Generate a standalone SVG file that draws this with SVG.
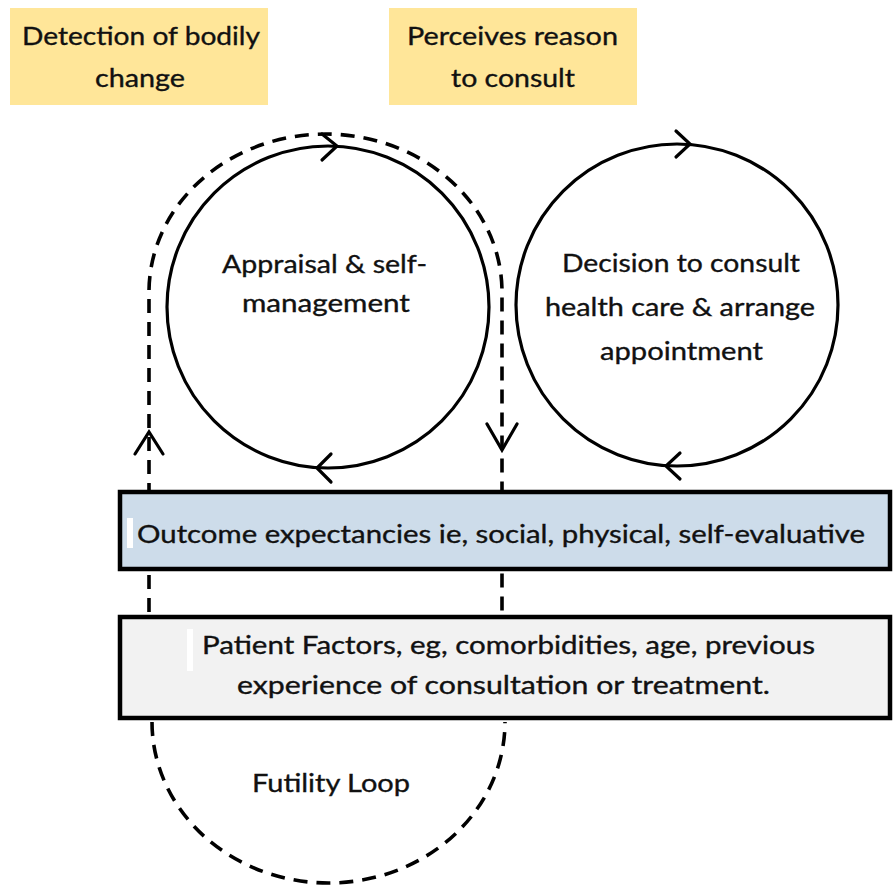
<svg xmlns="http://www.w3.org/2000/svg" width="896" height="886" viewBox="0 0 896 886">
<style>
text { font-family: "Lato", "Liberation Sans", sans-serif; font-size: 25px; fill: #111; stroke: #111; stroke-width: 0.35; }
.note { fill: #ffe699; }
.ring { fill: #fff; stroke: #000; stroke-width: 3.2; }
.head { fill: none; stroke: #000; stroke-width: 3.2; stroke-linecap: round; stroke-linejoin: miter; }
.dash { fill: none; stroke: #000; stroke-width: 3.6; stroke-dasharray: 14 9; }
.band { stroke: #000; stroke-width: 4.5; }
.cursor { fill: #fff; stroke: none; }
</style>
<rect width="896" height="886" fill="#fff"/>

<g id="connectors">
  <path class="dash" d="M149,612 L149,292 A176.5,158 0 0 1 502,292 L502,612"/>
  <path class="dash" d="M152,722 A176.5,161 0 0 0 505,722"/>
  <polyline class="head" points="135,454 149,432 163,454"/>
  <polyline class="head" points="487,424 502,450 517,424"/>
</g>

<g id="detection">
  <rect class="note" x="10" y="8" width="258" height="97"/>
  <text x="22" y="45" textLength="238" lengthAdjust="spacingAndGlyphs">Detection of bodily</text>
  <text x="95" y="87" textLength="90" lengthAdjust="spacingAndGlyphs">change</text>
</g>

<g id="perceives">
  <rect class="note" x="389" y="8" width="248" height="97"/>
  <text x="407" y="45" textLength="211" lengthAdjust="spacingAndGlyphs">Perceives reason</text>
  <text x="451" y="87" textLength="124" lengthAdjust="spacingAndGlyphs">to consult</text>
</g>

<g id="appraisal">
  <circle class="ring" cx="328" cy="307" r="161"/>
  <polyline class="head" points="322,134 337,146 322,160"/>
  <polyline class="head" points="331,454 317,468 331,482"/>
  <text x="222" y="273" textLength="205" lengthAdjust="spacingAndGlyphs">Appraisal &amp; self-</text>
  <text x="242" y="312" textLength="168" lengthAdjust="spacingAndGlyphs">management</text>
</g>

<g id="decision">
  <circle class="ring" cx="677" cy="305" r="161"/>
  <polyline class="head" points="676,131 690,144 676,157"/>
  <polyline class="head" points="680,453 666,466 680,479"/>
  <text x="562" y="272" textLength="238" lengthAdjust="spacingAndGlyphs">Decision to consult</text>
  <text x="545" y="316" textLength="270" lengthAdjust="spacingAndGlyphs">health care &amp; arrange</text>
  <text x="600" y="360" textLength="163" lengthAdjust="spacingAndGlyphs">appointment</text>
</g>

<g id="outcome">
  <rect class="band" x="120" y="492" width="770" height="77" fill="#cddcea"/>
  <rect class="cursor" x="127" y="518" width="6" height="30"/>
  <text x="137" y="543" textLength="728" lengthAdjust="spacingAndGlyphs">Outcome expectancies ie, social, physical, self-evaluative</text>
</g>

<g id="patient">
  <rect class="band" x="120" y="617" width="770" height="101" fill="#f2f2f2"/>
  <rect class="cursor" x="187" y="629" width="6" height="42"/>
  <text x="202" y="654" textLength="613" lengthAdjust="spacingAndGlyphs">Patient Factors, eg, comorbidities, age, previous</text>
  <text x="237" y="694" textLength="533" lengthAdjust="spacingAndGlyphs">experience of consultation or treatment.</text>
</g>

<g id="futility">
  <text x="252" y="792" textLength="158" lengthAdjust="spacingAndGlyphs">Futility Loop</text>
</g>
</svg>
